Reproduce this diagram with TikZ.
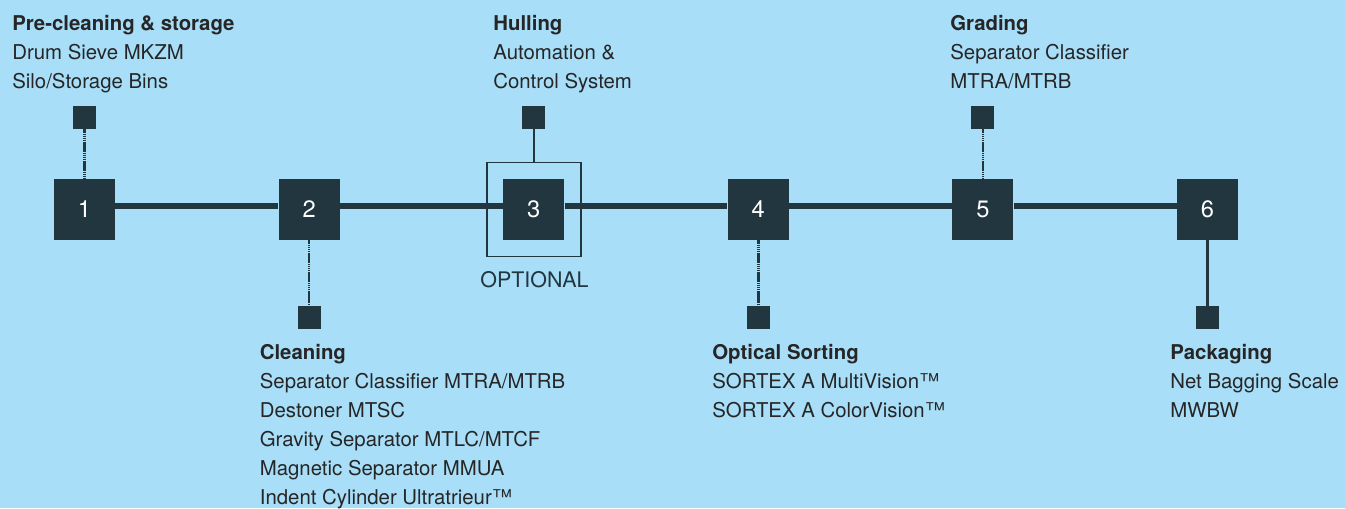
\documentclass[tikz,border=0pt]{standalone}
\usepackage{fontspec}
\setmainfont{TeX Gyre Heros}
\usetikzlibrary{positioning}

\definecolor{bgblue}{RGB}{168,222,248}
\definecolor{slate}{RGB}{34,54,64}
\definecolor{txtgray}{RGB}{38,38,38}

\tikzset{
	station/.style = {fill = slate, text = white, minimum size = 1.22cm, inner sep = 0pt, font = \fontsize{13.5}{13.5}\selectfont},
	tab/.style = {fill = slate, minimum size = 0.46cm, inner sep = 0pt},
	mainline/.style = {draw = slate, line width = 3.2pt},
	dotline/.style = {draw = slate, line width = 1.4pt, dash pattern = on 0.9pt off 0.3pt},
	plainline/.style = {draw = slate, line width = 1.2pt},
	infotext/.style = {anchor = base west, align = left, inner sep = 0pt, text = txtgray, font = \fontsize{11.6}{16.44}\selectfont}
}

\begin{document}
\begin{tikzpicture}[x = 0.02cm, y = -0.02cm]

	% Definitions
	
	\def\xa{84.5}		% x of the first station
	\def\dx{224.6}		% station spacing
	\def\ys{209.5}		% y of the stations
	\def\yup{117.5}		% y of the upper tabs
	\def\ydn{317.5}		% y of the lower tabs
	
	% Background
	
	\fill [bgblue] (0, 0) rectangle (1345, 508);
	\useasboundingbox (0, 0) rectangle (1345, 508);
	
	% Draw stations + tabs
	
	\foreach \n in {1, ..., 6}
		\node [station] (s\n) at ({\xa + (\n - 1) * \dx}, \ys) {\n};
	
	\foreach \n/\y in {1/\yup, 2/\ydn, 3/\yup, 4/\ydn, 5/\yup, 6/\ydn}
		\node [tab] (t\n) at ({\xa + (\n - 1) * \dx}, \y) {};
	
	\node [draw = slate, line width = 1.1pt, minimum size = 1.88cm, inner sep = 0pt] (optbox) at (s3) {};
	\node [anchor = base, inner sep = 0pt, text = slate, font = \fontsize{12.2}{12}\selectfont] (optlabel) at (534.5, 287.3) {OPTIONAL};
	
	% Draw process line
	
	\foreach \a/\b in {1/2, 2/3, 3/4, 4/5, 5/6}
		\draw [mainline] ([yshift = 0.07cm] s\a.east) -- ([yshift = 0.07cm] s\b.west);
	
	% Draw connectors
	
	\draw [dotline] (t1) -- (s1);
	\draw [dotline] (t5) -- (s5);
	\draw [dotline] (s2) -- (t2);
	\draw [dotline] (s4) -- (t4);
	\draw [plainline] (t3) -- (optbox);
	\draw [plainline] (s6) -- (t6);
	
	% Labels (anchored at the baseline of their last line)
	
	\node [infotext] (precl) at (12, 88) {\textbf{Pre-cleaning \& storage}\\Drum Sieve MKZM\\Silo/Storage Bins};
	\node [infotext] (hull) at (493, 88) {\textbf{Hulling}\\Automation \&\\Control System};
	\node [infotext] (grad) at (950, 88) {\textbf{Grading}\\Separator Classifier\\MTRA/MTRB};
	\node [infotext] (clean) at (259.5, 504) {\textbf{Cleaning}\\Separator Classifier MTRA/MTRB\\Destoner MTSC\\Gravity Separator MTLC/MTCF\\Magnetic Separator MMUA\\Indent Cylinder Ultratrieur™};
	\node [infotext] (sort) at (712, 417) {\textbf{Optical Sorting}\\SORTEX A MultiVision™\\SORTEX A ColorVision™};
	\node [infotext] (pack) at (1170, 417) {\textbf{Packaging}\\Net Bagging Scale\\MWBW};
	
\end{tikzpicture}
\end{document}
